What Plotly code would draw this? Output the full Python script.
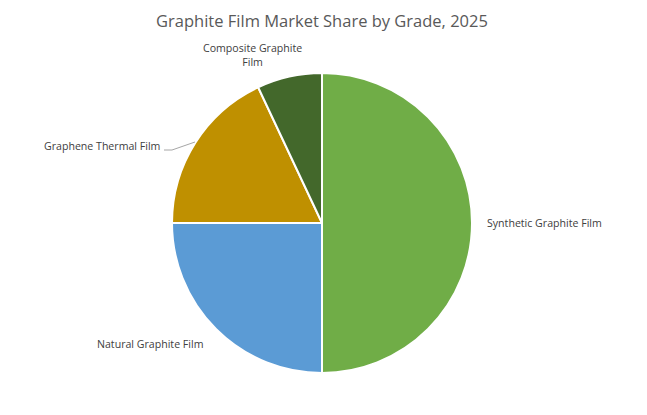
import plotly.graph_objects as go

categories = ["Synthetic Graphite Film", "Natural Graphite Film", "Graphene Thermal Film", "Composite Graphite Film"]
label_text = ["Synthetic Graphite Film", "Natural Graphite Film", "Graphene Thermal Film", "Composite Graphite<br>Film"]
shares = [50, 25, 18, 7]
colors = ["#70AD47", "#5B9BD5", "#BF9000", "#43682B"]

W, H = 647, 415
ML, MR, MT, MB = 0, 19, 65, 50
PW, PH = W - ML - MR, H - MT - MB
OFF = 8  # page body margin in the browser


def px_to_paper(x, y):
    return (x - OFF - ML) / PW, 1 - (y - OFF - MT) / PH


fig = go.Figure(go.Pie(
    labels=categories,
    values=shares,
    textinfo="none",
    sort=False,
    direction="clockwise",
    rotation=0,
    marker=dict(colors=colors, line=dict(color="white", width=2)),
    showlegend=False,
    hoverinfo="label+percent",
))

label_font = dict(family="Open Sans", size=10.6, color="#404040")
label_pos = [(485, 223, "left"), (205, 344, "right"), (162, 146, "right"), (252, 55, "center")]
for txt, (x, y, anc) in zip(label_text, label_pos):
    xp, yp = px_to_paper(x, y)
    fig.add_annotation(x=xp, y=yp, xref="paper", yref="paper", text=txt, showarrow=False,
                       xanchor=anc, yanchor="middle", align="center", font=label_font)

# leader line for Graphene Thermal Film
lx0, ly0 = px_to_paper(164, 150)
lx1, ly1 = px_to_paper(172, 150)
lx2, ly2 = px_to_paper(195, 142)
fig.add_shape(type="path", xref="paper", yref="paper",
              path=f"M {lx0} {ly0} L {lx1} {ly1} L {lx2} {ly2}",
              line=dict(color="#A6A6A6", width=1))

fig.update_layout(
    width=W, height=H,
    margin=dict(l=ML, r=MR, t=MT, b=MB, autoexpand=False),
    paper_bgcolor="white",
    title=dict(text="Graphite Film Market Share by Grade, 2025", x=0.5, xanchor="center",
               xref="paper", y=1 - 13 / H, yanchor="middle", yref="container",
               font=dict(family="Open Sans", size=16.5, color="#595959")),
)
fig.write_html("out.html")
